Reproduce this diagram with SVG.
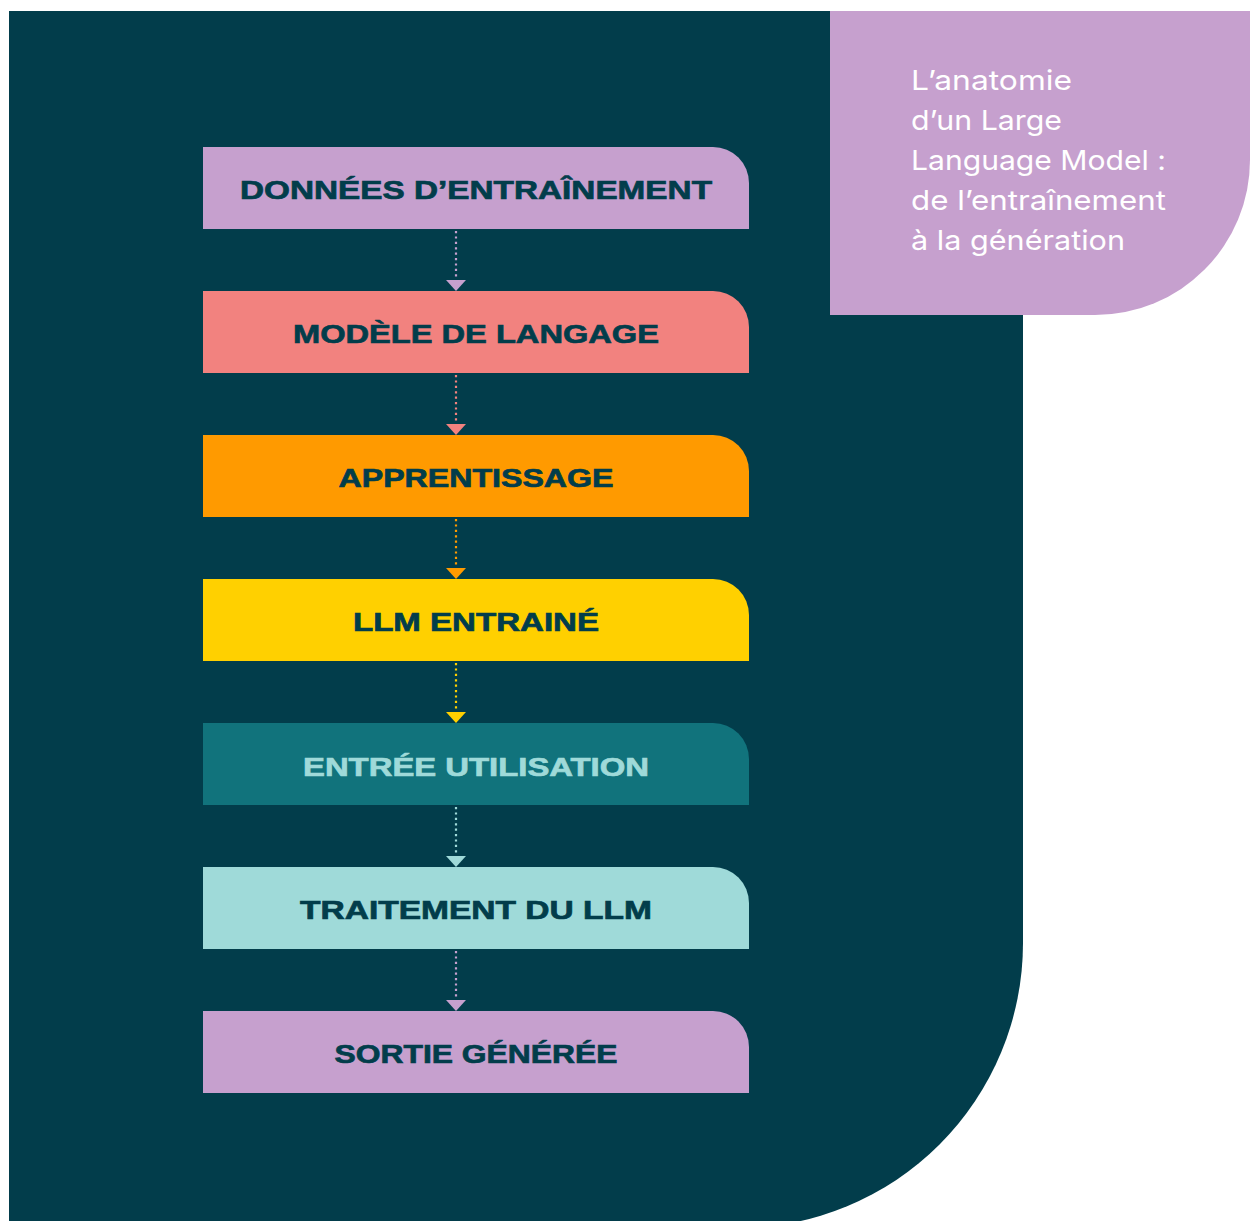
<svg xmlns="http://www.w3.org/2000/svg" width="1253" height="1221" viewBox="0 0 1253 1221">
<style>
.lbl{font-family:"Liberation Sans",Arial,sans-serif;font-weight:bold;font-size:26.5px;fill:#023D4B;stroke:#023D4B;stroke-width:0.7;text-anchor:middle}
.ttl{font-family:Inter,"Liberation Sans",sans-serif;font-size:27.5px;fill:#FFFFFF}
.dot{fill:none;stroke-width:2.2;stroke-dasharray:2.2 3.2}
</style>
<rect width="1253" height="1221" fill="#FFFFFF"/>
<path d="M9 11 H1023 V943 A285 285 0 0 1 738 1228 H9 Z" fill="#023D4B"/>
<g id="title">
<path d="M830 11 H1250 V160 A155 155 0 0 1 1095 315 H830 Z" fill="#C6A0CE"/>
<text class="ttl" x="911" y="90" textLength="161" lengthAdjust="spacingAndGlyphs">L’anatomie</text>
<text class="ttl" x="911" y="130" textLength="151" lengthAdjust="spacingAndGlyphs">d’un Large</text>
<text class="ttl" x="911" y="170" textLength="255" lengthAdjust="spacingAndGlyphs">Language Model :</text>
<text class="ttl" x="911" y="210" textLength="255" lengthAdjust="spacingAndGlyphs">de l’entraînement</text>
<text class="ttl" x="911" y="250" textLength="214" lengthAdjust="spacingAndGlyphs">à la génération</text>
</g>
<g id="connectors">
<line class="dot" x1="456" y1="231" x2="456" y2="279" stroke="#C6A0CE"/>
<polygon points="446,280 466,280 456,291" fill="#C6A0CE"/>
<line class="dot" x1="456" y1="375" x2="456" y2="423" stroke="#F2827F"/>
<polygon points="446,424 466,424 456,435" fill="#F2827F"/>
<line class="dot" x1="456" y1="519" x2="456" y2="567" stroke="#FF9A00"/>
<polygon points="446,568 466,568 456,579" fill="#FF9A00"/>
<line class="dot" x1="456" y1="663" x2="456" y2="711" stroke="#FFD000"/>
<polygon points="446,712 466,712 456,723" fill="#FFD000"/>
<line class="dot" x1="456" y1="807" x2="456" y2="855" stroke="#9FDAD9"/>
<polygon points="446,856 466,856 456,867" fill="#9FDAD9"/>
<line class="dot" x1="456" y1="951" x2="456" y2="999" stroke="#C6A0CE"/>
<polygon points="446,1000 466,1000 456,1011" fill="#C6A0CE"/>
</g>
<g id="n1"><path d="M203 147 H713 A36 36 0 0 1 749 183 V229 H203 Z" fill="#C6A0CE"/><text class="lbl" x="476" y="199" textLength="472" lengthAdjust="spacingAndGlyphs">DONNÉES D’ENTRAÎNEMENT</text></g>
<g id="n2"><path d="M203 291 H713 A36 36 0 0 1 749 327 V373 H203 Z" fill="#F2827F"/><text class="lbl" x="476" y="343" textLength="366" lengthAdjust="spacingAndGlyphs">MODÈLE DE LANGAGE</text></g>
<g id="n3"><path d="M203 435 H713 A36 36 0 0 1 749 471 V517 H203 Z" fill="#FF9A00"/><text class="lbl" x="476" y="487" textLength="275" lengthAdjust="spacingAndGlyphs">APPRENTISSAGE</text></g>
<g id="n4"><path d="M203 579 H713 A36 36 0 0 1 749 615 V661 H203 Z" fill="#FFD000"/><text class="lbl" x="476" y="631" textLength="246" lengthAdjust="spacingAndGlyphs">LLM ENTRAINÉ</text></g>
<g id="n5"><path d="M203 723 H713 A36 36 0 0 1 749 759 V805 H203 Z" fill="#11737C"/><text class="lbl" x="476" y="776" textLength="346" lengthAdjust="spacingAndGlyphs" style="fill:#9FDAD9;stroke:#9FDAD9">ENTRÉE UTILISATION</text></g>
<g id="n6"><path d="M203 867 H713 A36 36 0 0 1 749 903 V949 H203 Z" fill="#9FDAD9"/><text class="lbl" x="476" y="919" textLength="352" lengthAdjust="spacingAndGlyphs">TRAITEMENT DU LLM</text></g>
<g id="n7"><path d="M203 1011 H713 A36 36 0 0 1 749 1047 V1093 H203 Z" fill="#C6A0CE"/><text class="lbl" x="476" y="1063" textLength="283" lengthAdjust="spacingAndGlyphs">SORTIE GÉNÉRÉE</text></g>
</svg>
